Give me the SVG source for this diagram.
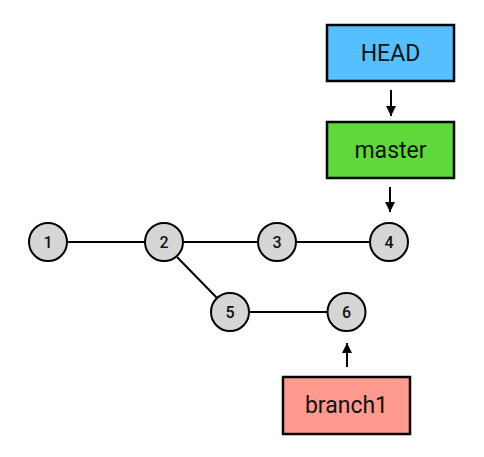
<svg xmlns="http://www.w3.org/2000/svg" width="484" height="457" viewBox="0 0 484 457">
<style>
.box{stroke:#000;stroke-width:2.5}
.c{fill:#d6d6d6;stroke:#000;stroke-width:2}
.bt{font-family:Roboto,"Liberation Sans",sans-serif;font-size:23px;fill:#111;text-anchor:middle;dominant-baseline:central}
.ct{font-family:Roboto,"Liberation Sans",sans-serif;font-size:16px;font-weight:500;fill:#111;text-anchor:middle;dominant-baseline:central}
.e{stroke:#000;stroke-width:2;fill:none}
</style>
<defs>
<marker id="ah" viewBox="0 0 10 10" refX="10" refY="5" markerWidth="5" markerHeight="5" markerUnits="strokeWidth" orient="auto">
<path d="M0,0 L10,5 L0,10 Z" fill="#000"/>
</marker>
</defs>
<g id="connectors">
<line class="e" x1="67" y1="242" x2="145" y2="242"/>
<line class="e" x1="184" y1="242" x2="258" y2="242"/>
<line class="e" x1="297" y1="242" x2="370" y2="242"/>
<line class="e" x1="177" y1="257" x2="217" y2="298"/>
<line class="e" x1="250" y1="312" x2="327" y2="312"/>
<line class="e" x1="391" y1="90" x2="391" y2="116" marker-end="url(#ah)"/>
<line class="e" x1="390" y1="187" x2="390" y2="212" marker-end="url(#ah)"/>
<line class="e" x1="347" y1="367" x2="347" y2="343" marker-end="url(#ah)"/>
</g>
<g id="HEAD"><rect class="box" x="327" y="25" width="127" height="56" fill="#55bfff"/><text class="bt" x="390.5" y="53">HEAD</text></g>
<g id="master"><rect class="box" x="327" y="122" width="127" height="56" fill="#5fd83a"/><text class="bt" x="390.5" y="150">master</text></g>
<g id="branch1"><rect class="box" x="283" y="377" width="127" height="57" fill="#ff9a8f"/><text class="bt" x="346.5" y="405.5">branch1</text></g>
<g id="n1"><circle class="c" cx="48" cy="242" r="19"/><text class="ct" x="48" y="242">1</text></g>
<g id="n2"><circle class="c" cx="164" cy="242" r="19"/><text class="ct" x="164" y="242">2</text></g>
<g id="n3"><circle class="c" cx="277" cy="242" r="19"/><text class="ct" x="277" y="242">3</text></g>
<g id="n4"><circle class="c" cx="389" cy="242" r="19"/><text class="ct" x="389" y="242">4</text></g>
<g id="n5"><circle class="c" cx="230" cy="312" r="19"/><text class="ct" x="230" y="312">5</text></g>
<g id="n6"><circle class="c" cx="346.5" cy="312" r="19"/><text class="ct" x="346.5" y="312">6</text></g>
</svg>
